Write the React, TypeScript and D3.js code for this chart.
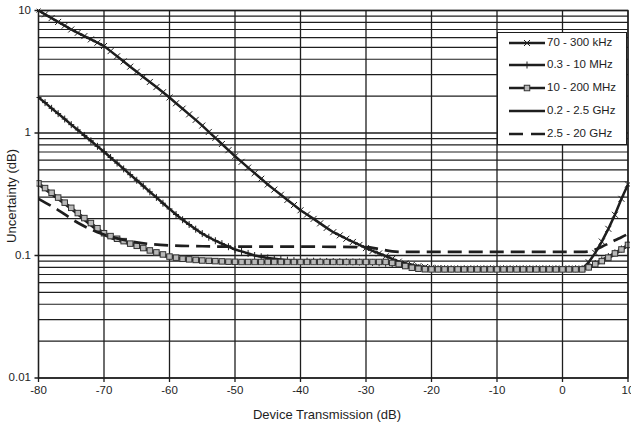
import React from "react";
import * as d3 from "d3";

const transmissionDb = [-80,-79,-78,-77,-76,-75,-74,-73,-72,-71,-70,-69,-68,-67,-66,-65,-64,-63,-62,-61,-60,-59,-58,-57,-56,-55,-54,-53,-52,-51,-50,-49,-48,-47,-46,-45,-44,-43,-42,-41,-40,-39,-38,-37,-36,-35,-34,-33,-32,-31,-30,-29,-28,-27,-26,-25,-24,-23,-22,-21,-20,-19,-18,-17,-16,-15,-14,-13,-12,-11,-10,-9,-8,-7,-6,-5,-4,-3,-2,-1,0,1,2,3,4,5,6,7,8,9,10];

const khz70_300 = [10.0,9.31,8.67,8.07,7.52,7.0,6.58,6.18,5.81,5.46,5.13,4.66,4.23,3.84,3.48,3.16,2.87,2.61,2.37,2.15,1.95,1.75,1.58,1.42,1.28,1.15,1.02,0.912,0.813,0.724,0.646,0.581,0.522,0.47,0.423,0.38,0.345,0.313,0.284,0.258,0.234,0.216,0.199,0.183,0.168,0.155,0.146,0.137,0.129,0.122,0.115,0.109,0.104,0.0987,0.0938,0.0891,0.0861,0.0838,0.0818,0.0805,0.0794,0.0788,0.0784,0.0781,0.0779,0.0778,0.078,0.078,0.078,0.078,0.078,0.078,0.078,0.078,0.078,0.078,0.078,0.078,0.078,0.078,0.078,0.078,0.078,0.078,0.088,0.105,0.13,0.165,0.215,0.29,0.38];

const mhz03_10 = [1.95,1.77,1.59,1.44,1.3,1.17,1.06,0.955,0.863,0.778,0.703,0.631,0.568,0.509,0.457,0.411,0.369,0.331,0.298,0.267,0.24,0.216,0.196,0.179,0.164,0.151,0.141,0.132,0.125,0.118,0.112,0.108,0.104,0.1,0.0977,0.0955,0.094,0.0927,0.0916,0.0908,0.0902,0.09,0.0898,0.0896,0.0894,0.0892,0.089,0.0888,0.0886,0.0884,0.0882,0.0878,0.0872,0.0865,0.0855,0.0845,0.083,0.081,0.0795,0.0785,0.078,0.078,0.078,0.078,0.078,0.078,0.078,0.078,0.078,0.078,0.078,0.078,0.078,0.078,0.078,0.078,0.078,0.078,0.078,0.078,0.078,0.078,0.078,0.078,0.081,0.086,0.092,0.098,0.105,0.113,0.122];

const mhz10_200 = [0.388,0.355,0.325,0.297,0.27,0.245,0.222,0.202,0.184,0.167,0.152,0.144,0.137,0.131,0.125,0.12,0.115,0.11,0.106,0.102,0.098,0.096,0.094,0.093,0.092,0.091,0.0905,0.09,0.0895,0.089,0.0888,0.0885,0.0885,0.0885,0.0885,0.0885,0.0885,0.0885,0.0885,0.0885,0.0885,0.0885,0.0885,0.0885,0.0885,0.0885,0.0885,0.0885,0.0885,0.0885,0.0885,0.0885,0.0885,0.0885,0.087,0.085,0.082,0.0795,0.078,0.0772,0.077,0.077,0.077,0.077,0.077,0.077,0.077,0.077,0.077,0.077,0.077,0.077,0.077,0.077,0.077,0.077,0.077,0.077,0.077,0.077,0.077,0.077,0.077,0.077,0.08,0.085,0.09,0.096,0.104,0.112,0.122];

const ghz02_25_x = [-80,-75,-70,-65,-60,-55,-50,-40,-30,-26,-23,-20,0,3,5,7,10];
const ghz02_25 = [0.38,0.24,0.148,0.119,0.097,0.091,0.088,0.088,0.088,0.086,0.079,0.077,0.077,0.077,0.084,0.095,0.12];

const ghz25_20_x = [-80,-77,-74,-71,-68,-65,-60,-55,-50,-40,-30,-28,-26,-24,-20,0,3,4,5,6,7,8,9,10];
const ghz25_20 = [0.29,0.235,0.185,0.155,0.138,0.128,0.121,0.119,0.118,0.118,0.117,0.113,0.108,0.107,0.107,0.107,0.107,0.108,0.112,0.118,0.125,0.133,0.141,0.15];

const xTicks = [-80,-70,-60,-50,-40,-30,-20,-10,0,10];
const yTicks = [0.01, 0.1, 1, 10];
const yTickLabels = ["0.01", "0.1", "1", "10"];
const legendLabels = ["70 - 300 kHz", "0.3 - 10 MHz", "10 - 200 MHz", "0.2 - 2.5 GHz", "2.5 - 20 GHz"];

const W = 631, H = 427;
const L = 38.5, R = 628, T = 10.5, B = 378;
const FONT = "'Liberation Sans', Arial, sans-serif";
const INK = "#1e1e1e";

export default function App() {
  const x = d3.scaleLinear().domain([-80, 10]).range([L, R]);
  const y = d3.scaleLog().domain([0.01, 10]).range([B, T]);

  const minor: number[] = [];
  [0.01, 0.1, 1].forEach((d) => {
    for (let m = 2; m <= 9; m++) minor.push(d * m);
  });

  const dense = d3.line<number>().x((_, i) => x(transmissionDb[i])).y((v) => y(v));
  const sparse = (xs: number[]) =>
    d3.line<number>().x((_, i) => x(xs[i])).y((v) => y(v)).curve(d3.curveMonotoneX);

  const cross = "M-3,-3L3,3M-3,3L3,-3";
  const plus = "M0,-3.5L0,3.5M-3,0L3,0";

  const legendY = [43, 65, 88, 111, 134];
  const lx0 = 509, lx1 = 545, lmid = 527;

  return (
    <svg width={W} height={H} style={{ position: "absolute", left: 0, top: 0, background: "#fff" }}>
      <defs>
        <clipPath id="plot">
          <rect x={L - 2} y={T - 2} width={R - L + 4} height={B - T + 4} />
        </clipPath>
      </defs>
      {minor.map((v) => (
        <line key={"m" + v} x1={L} x2={R} y1={y(v)} y2={y(v)} stroke={INK} strokeWidth={1.2} />
      ))}
      {yTicks.map((v) => (
        <line key={"M" + v} x1={L - 4} x2={R} y1={y(v)} y2={y(v)} stroke={INK} strokeWidth={1.4} />
      ))}
      {xTicks.map((v) => (
        <line key={"v" + v} x1={x(v)} x2={x(v)} y1={T} y2={B + 4} stroke={INK} strokeWidth={1.3} />
      ))}

      <g clipPath="url(#plot)" fill="none" stroke={INK}>
        <path d={dense(khz70_300) || ""} strokeWidth={2.5} />
        {khz70_300.map((v, i) => (
          <path key={"a" + i} d={cross} transform={`translate(${x(transmissionDb[i])},${y(v)})`} strokeWidth={1} />
        ))}
        <path d={dense(mhz03_10) || ""} strokeWidth={2.5} />
        {mhz03_10.map((v, i) => (
          <path key={"b" + i} d={plus} transform={`translate(${x(transmissionDb[i])},${y(v)})`} strokeWidth={1} />
        ))}
        <path d={sparse(ghz02_25_x)(ghz02_25) || ""} strokeWidth={2.5} />
        <path d={dense(mhz10_200) || ""} strokeWidth={2.5} />
        {mhz10_200.map((v, i) => (
          <rect key={"c" + i} x={x(transmissionDb[i]) - 2.75} y={y(v) - 2.75} width={5.5} height={5.5} fill="#b8b8b8" stroke="#333" strokeWidth={1} />
        ))}
        <path d={sparse(ghz25_20_x)(ghz25_20) || ""} strokeWidth={2.7} strokeDasharray="14,7" />
      </g>

      <rect x={L} y={T} width={R - L} height={B - T} fill="none" stroke={INK} strokeWidth={1.3} />

      {yTicks.map((v, i) => (
        <text key={"yl" + v} x={31} y={y(v)} textAnchor="end" dominantBaseline="middle" fontFamily={FONT} fontSize={11.5} fill={INK}>
          {yTickLabels[i]}
        </text>
      ))}
      {xTicks.map((v) => (
        <text key={"xl" + v} x={x(v)} y={391} textAnchor="middle" dominantBaseline="middle" fontFamily={FONT} fontSize={11.5} fill={INK}>
          {v}
        </text>
      ))}
      <text x={327} y={416} textAnchor="middle" dominantBaseline="middle" fontFamily={FONT} fontSize={13} fill={INK}>
        Device Transmission (dB)
      </text>
      <text transform="translate(13,196) rotate(-90)" textAnchor="middle" dominantBaseline="middle" fontFamily={FONT} fontSize={13} fill={INK}>
        Uncertainty (dB)
      </text>

      <rect x={497.5} y={32.5} width={129} height={112} fill="#fff" stroke={INK} strokeWidth={1} />
      {legendLabels.map((lab, i) => (
        <g key={"lg" + i}>
          <line x1={lx0} x2={lx1} y1={legendY[i]} y2={legendY[i]} stroke={INK} strokeWidth={2.5} strokeDasharray={i === 4 ? "14,8" : undefined} />
          {i === 0 && <path d={cross} transform={`translate(${lmid},${legendY[i]})`} stroke={INK} strokeWidth={1} fill="none" />}
          {i === 1 && <path d={plus} transform={`translate(${lmid},${legendY[i]})`} stroke={INK} strokeWidth={1} fill="none" />}
          {i === 2 && <rect x={lmid - 2.75} y={legendY[i] - 2.75} width={5.5} height={5.5} fill="#b8b8b8" stroke="#333" strokeWidth={1} />}
          <text x={547} y={legendY[i]} dominantBaseline="middle" fontFamily={FONT} fontSize={11.5} fill={INK}>
            {lab}
          </text>
        </g>
      ))}
    </svg>
  );
}
